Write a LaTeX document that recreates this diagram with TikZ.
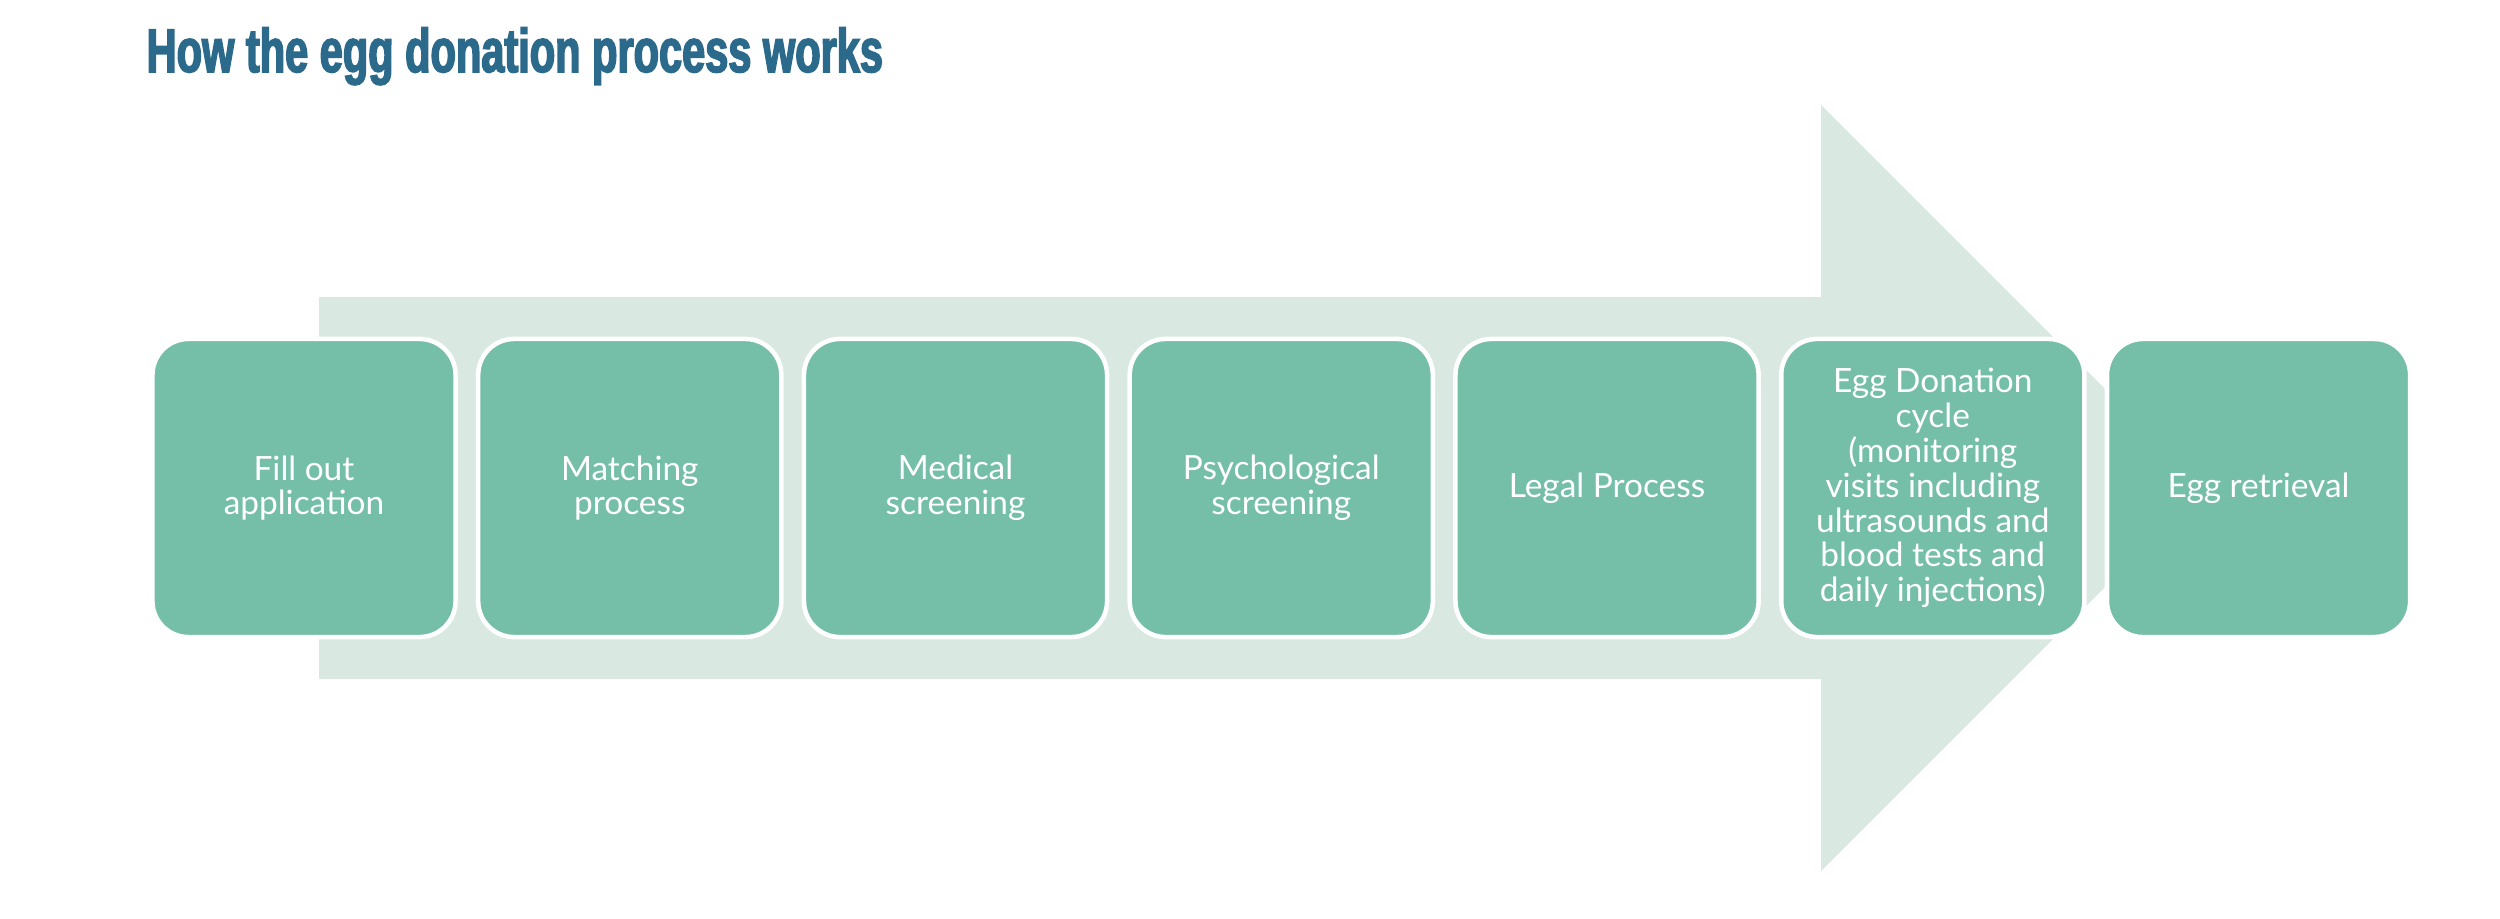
\documentclass[tikz,border=0pt]{standalone}
\usepackage{fontspec}
\setmainfont{Lato}
\newfontfamily\titlefont[FakeStretch=0.675,FakeBold=2.5]{Liberation Sans Bold}
\usetikzlibrary{positioning}

\definecolor{stepgreen}{RGB}{117,190,168}
\definecolor{arrowbg}{RGB}{217,232,225}
\definecolor{titleblue}{RGB}{44,106,140}

\begin{document}
\begin{tikzpicture}[
    x=0.01cm, y=-0.01cm,
    font=\fontsize{9.5pt}{9.9pt}\selectfont,
    node distance=0.18cm,
    stepbox/.style ={draw=white, line width=1.3pt, fill=stepgreen,
                     rounded corners=0.36cm, align=center, text=white,
                     minimum width=3.03cm, minimum height=2.98cm, inner sep=2pt},
    bigarrow/.style={fill=arrowbg},
]
\useasboundingbox (0,0) rectangle (2500,918);

% ============================================================
% TITLE
% ============================================================
\node[anchor=base west, inner sep=0pt, text=titleblue,
      font=\titlefont\fontsize{17.5pt}{20pt}\selectfont] (title) at (146,72)
    {How the egg donation process works};

% ============================================================
% BACKGROUND ARROW
% ============================================================
\fill[bigarrow] (319,297) -- (1821,297) -- (1821,105) -- (2204,488)
    -- (1821,871) -- (1821,679) -- (319,679) -- cycle;

% ============================================================
% STEPS
% ============================================================
\node[stepbox] (apply) at (304,488) {Fill out\\application};
\node[stepbox, right=of apply]    (match)  {Matching\\process};
\node[stepbox, right=of match]    (medic)  {Medical\\screening};
\node[stepbox, right=of medic]    (psych)  {Psychological\\screening};
\node[stepbox, right=of psych]    (legal)  {Legal Process};
\node[stepbox, right=of legal]    (cycle)  {Egg Donation\\cycle\\(monitoring\\visits including\\ultrasounds and\\blood tests and\\daily injections)};
\node[stepbox, right=of cycle]    (retr)   {Egg retrieval};

\end{tikzpicture}
\end{document}
